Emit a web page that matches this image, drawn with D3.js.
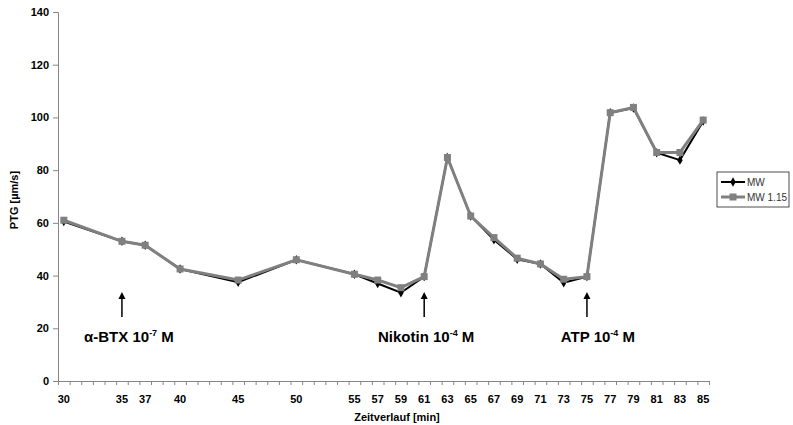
<!DOCTYPE html>
<html>
<head>
<meta charset="utf-8">
<script src="https://cdn.jsdelivr.net/npm/d3@7"></script>
<style>
  html, body { margin: 0; padding: 0; background: #fff; }
  svg { display: block; font-family: "Liberation Sans", Arial, sans-serif; }
</style>
</head>
<body>
<div id="chart"></div>
<script>
// Zeitpunkte (min) und Messwerte PTG [µm/s]
const times = [30, 35, 37, 40, 45, 50, 55, 57, 59, 61, 63, 65, 67, 69, 71, 73, 75, 77, 79, 81, 83, 85];
const mw     = [60.5, 53, 51.5, 42.5, 37.5, 46, 40.5, 37, 33.5, 39.6, 84.8, 62.6, 53.6, 46.2, 44.4, 37.3, 39.6, 101.8, 103.6, 86.6, 83.8, 98.6];
const mw115  = [61, 53, 51.5, 42.5, 38.3, 46, 40.5, 38.3, 35.4, 39.6, 84.8, 62.6, 54.4, 46.6, 44.4, 38.6, 39.6, 101.8, 103.8, 86.7, 86.7, 99];
const xLabels = [30, 35, 37, 40, 45, 50, 55, 57, 59, 61, 63, 65, 67, 69, 71, 73, 75, 77, 79, 81, 83, 85];
const yTicks = [0, 20, 40, 60, 80, 100, 120, 140];
const events = [
  { t: 35, text: 'α-BTX 10', exp: '-7', tail: ' M' },
  { t: 61, text: 'Nikotin 10', exp: '-4', tail: ' M' },
  { t: 75, text: 'ATP 10', exp: '-4', tail: ' M' }
];
const seriesNames = ['MW', 'MW 1.15'];

const W = 793, H = 425;
const L = 58, R = 709, T = 12, B = 381;
const axisColor = '#868686';

const svg = d3.select('#chart').append('svg').attr('width', W).attr('height', H);

const x = d3.scaleLinear().domain([29.5, 85.5]).range([L, R]);
const y = d3.scaleLinear().domain([0, 140]).range([B, T]);

// Y-Achse
const yAxis = svg.append('g').attr('transform', `translate(${L},0)`)
  .call(d3.axisLeft(y).tickValues(yTicks).tickSize(5).tickPadding(4));
yAxis.select('.domain').attr('stroke', axisColor);
yAxis.selectAll('.tick line').attr('stroke', axisColor);
yAxis.selectAll('.tick text').attr('font-size', 11).attr('font-weight', 'bold')
  .attr('fill', '#000').attr('font-family', '"Liberation Sans", Arial, sans-serif');

// X-Achse: Striche zwischen den Minuten, Beschriftung an ausgewählten Minuten
const minorTicks = d3.range(30.5, 85.6, 1);
const xAxis = svg.append('g').attr('transform', `translate(0,${B})`)
  .call(d3.axisBottom(x).tickValues(minorTicks).tickSize(4).tickFormat(''));
xAxis.select('.domain').attr('stroke', axisColor);
xAxis.selectAll('.tick line').attr('stroke', axisColor);

svg.append('g').selectAll('text').data(xLabels).enter().append('text')
  .attr('x', (d) => x(d)).attr('y', B + 22).attr('text-anchor', 'middle')
  .attr('font-size', 11).attr('font-weight', 'bold').text((d) => d);

// Achsentitel
svg.append('text').attr('x', 397).attr('y', 421).attr('text-anchor', 'middle')
  .attr('font-size', 11).attr('font-weight', 'bold').text('Zeitverlauf [min]');
svg.append('text').attr('transform', 'translate(18,200) rotate(-90)').attr('text-anchor', 'middle')
  .attr('font-size', 11).attr('font-weight', 'bold').text('PTG [µm/s]');

// Datenreihen
const line = (vals) => d3.line().x((d, i) => x(times[i])).y((d) => y(d))(vals);

svg.append('path').attr('d', line(mw)).attr('fill', 'none').attr('stroke', '#000').attr('stroke-width', 2);
const sym = d3.symbol().type(d3.symbolDiamond).size(26);
svg.append('g').selectAll('path').data(mw).enter().append('path')
  .attr('d', sym).attr('transform', (d, i) => `translate(${x(times[i])},${y(d)})`).attr('fill', '#000');

svg.append('path').attr('d', line(mw115)).attr('fill', 'none').attr('stroke', '#808080').attr('stroke-width', 3);
svg.append('g').selectAll('rect').data(mw115).enter().append('rect')
  .attr('x', (d, i) => x(times[i]) - 3.5).attr('y', (d) => y(d) - 3.5)
  .attr('width', 7).attr('height', 7).attr('fill', '#808080');

// Ereignis-Pfeile
const ev = svg.append('g').selectAll('g').data(events).enter().append('g');
ev.append('line').attr('x1', (d) => x(d.t)).attr('x2', (d) => x(d.t))
  .attr('y1', 317).attr('y2', 297).attr('stroke', '#000').attr('stroke-width', 1.5);
ev.append('path').attr('d', (d) => `M${x(d.t) - 3.5},${299} L${x(d.t)},${292} L${x(d.t) + 3.5},${299} Z`)
  .attr('fill', '#000');
const evText = ev.append('text').attr('x', (d) => x(d.t) + (d.t === 35 ? 7 : d.t === 61 ? 2 : 11))
  .attr('y', 342).attr('text-anchor', 'middle').attr('font-size', 15).attr('font-weight', 'bold');
evText.append('tspan').text((d) => d.text);
evText.append('tspan').attr('font-size', 9).attr('dy', -6).text((d) => d.exp);
evText.append('tspan').attr('dy', 6).text((d) => d.tail);

// Legende
const lg = svg.append('g').attr('transform', 'translate(717,172)');
lg.append('rect').attr('width', 72).attr('height', 35).attr('fill', '#fff').attr('stroke', '#000').attr('stroke-width', 0.7);
seriesNames.forEach((name, i) => {
  const row = lg.append('g').attr('transform', `translate(0,${10 + i * 15})`);
  row.append('line').attr('x1', 4).attr('x2', 28).attr('stroke', i ? '#808080' : '#000').attr('stroke-width', i ? 3 : 2);
  if (i) row.append('rect').attr('x', 12.5).attr('y', -3.5).attr('width', 7).attr('height', 7).attr('fill', '#808080');
  else row.append('path').attr('d', sym).attr('transform', 'translate(16,0)').attr('fill', '#000');
  row.append('text').attr('x', 30).attr('y', 3.5).attr('font-size', 10).attr('fill', '#333').text(name);
});
</script>
</body>
</html>
